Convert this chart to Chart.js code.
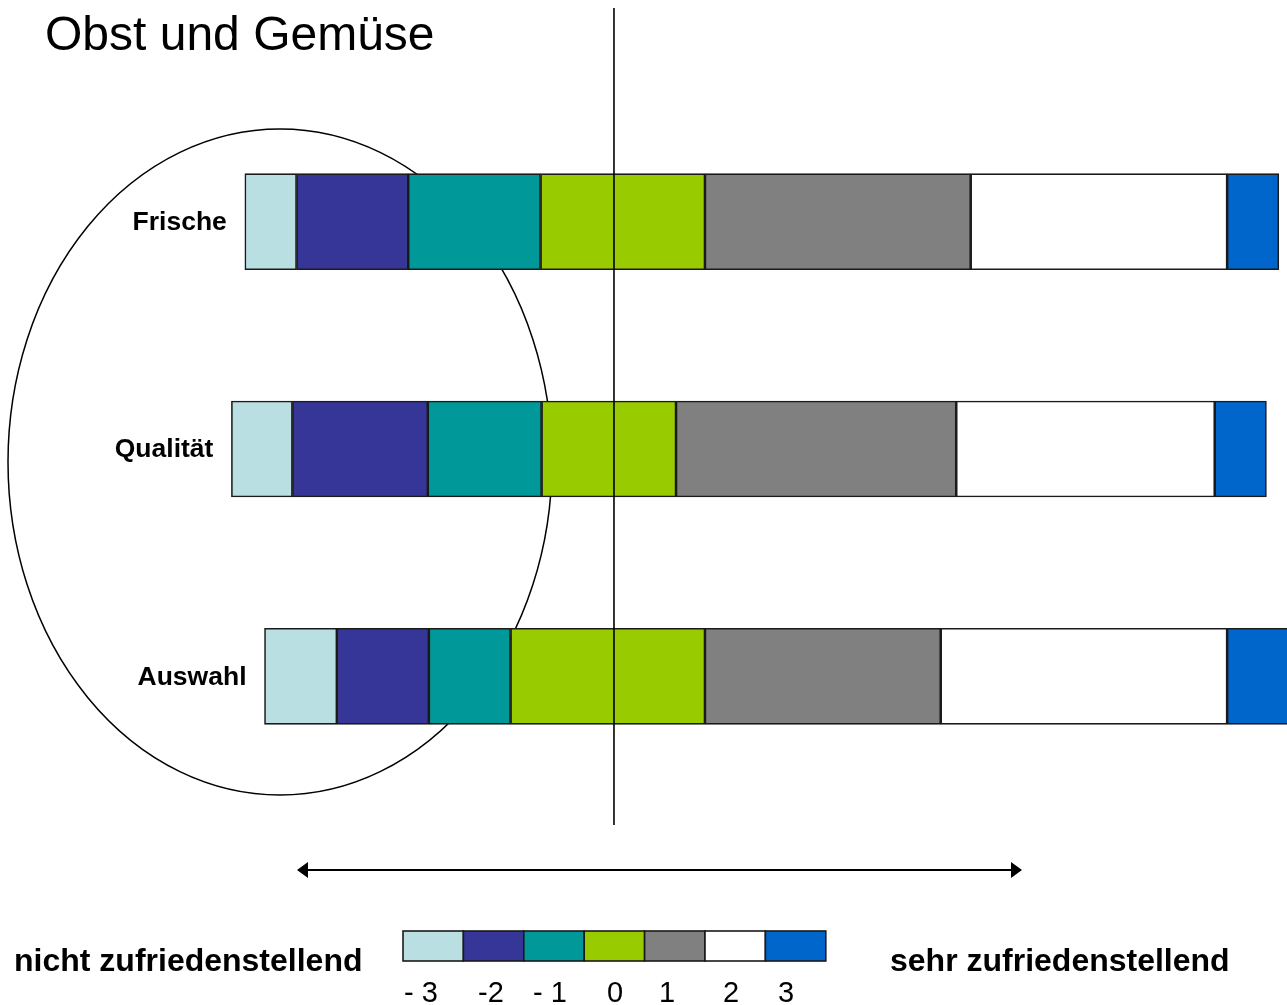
<!DOCTYPE html>
<html>
<head>
<meta charset="utf-8">
<script src="https://cdn.jsdelivr.net/npm/chart.js@4/dist/chart.umd.min.js"></script>
<style>
html,body{margin:0;padding:0;background:#fff;}
#wrap{width:1287px;height:1005px;position:relative;}
</style>
</head>
<body>
<div id="wrap"><canvas id="c" width="1287" height="1005"></canvas></div>
<script>
// ---- data ----
const title = "Obst und Gemüse";
const categories = ["Frische", "Qualität", "Auswahl"];
const ratingLabels = ["- 3", "-2", "- 1", "0", "1", "2", "3"];
const ratingColors = ["#BADFE3", "#363698", "#009898", "#99CC00", "#808080", "#FFFFFF", "#0066CC"];
// share of answers per rating (percent), order -3 .. 3
const frische  = [5.0, 10.8, 12.8, 15.9, 25.7, 24.8, 5.0];
const qualitaet = [5.9, 13.1, 11.0, 13.0, 27.1, 25.0, 5.0];
const auswahl  = [7.0, 8.9, 7.9, 18.8, 22.8, 27.7, 6.9];
// start of each bar relative to the neutral line (percent)
const barStart = [-35.7, -37.0, -33.8];
const leftText = "nicht zufriedenstellend";
const rightText = "sehr zufriedenstellend";

const rows = [frische, qualitaet, auswahl];
const datasets = ratingLabels.map((lab, k) => ({
  label: lab,
  data: rows.map((r, i) => {
    let s = barStart[i];
    for (let j = 0; j < k; j++) s += r[j];
    return [s, s + r[k]];
  }),
  backgroundColor: ratingColors[k],
  borderColor: "#1a1a1a",
  borderWidth: 1.6,
  borderSkipped: false,
  grouped: false,
  barThickness: 96
}));

const FONT = "'Liberation Sans', Arial, Helvetica, sans-serif";

const decor = {
  id: "decor",
  beforeDatasetsDraw(chart) {
    const ctx = chart.ctx;
    ctx.save();
    ctx.beginPath();
    ctx.ellipse(280, 462, 272, 333, 0, 0, Math.PI * 2);
    ctx.lineWidth = 1.5;
    ctx.strokeStyle = "#000";
    ctx.stroke();
    ctx.restore();
  },
  afterDatasetsDraw(chart) {
    const ctx = chart.ctx;
    const xs = chart.scales.x, ys = chart.scales.y;
    ctx.save();
    const x0 = xs.getPixelForValue(0);
    ctx.beginPath();
    ctx.moveTo(x0, 8); ctx.lineTo(x0, 825);
    ctx.lineWidth = 1.6; ctx.strokeStyle = "#000"; ctx.stroke();
    // title
    ctx.fillStyle = "#000";
    ctx.font = "48px " + FONT;
    ctx.textAlign = "left"; ctx.textBaseline = "alphabetic";
    ctx.fillText(title, 45, 50);
    // category labels
    ctx.font = "bold 26.5px " + FONT;
    ctx.textAlign = "right"; ctx.textBaseline = "middle";
    categories.forEach((c, i) => {
      const xp = xs.getPixelForValue(barStart[i]) - 18;
      ctx.fillText(c, xp, ys.getPixelForValue(i) + 1);
    });
    // arrow
    const ay = 870, ax1 = 297, ax2 = 1022;
    ctx.beginPath();
    ctx.moveTo(ax1 + 8, ay); ctx.lineTo(ax2 - 8, ay);
    ctx.lineWidth = 2; ctx.stroke();
    ctx.beginPath();
    ctx.moveTo(ax1, ay); ctx.lineTo(ax1 + 11, ay - 8); ctx.lineTo(ax1 + 11, ay + 8); ctx.closePath();
    ctx.fill();
    ctx.beginPath();
    ctx.moveTo(ax2, ay); ctx.lineTo(ax2 - 11, ay - 8); ctx.lineTo(ax2 - 11, ay + 8); ctx.closePath();
    ctx.fill();
    // legend strip
    const lx = 403, ly = 931, lw = 60.4, lh = 30;
    const labelX = [421, 491, 550, 615, 667, 731, 786];
    ratingColors.forEach((col, k) => {
      ctx.fillStyle = col;
      ctx.fillRect(lx + k * lw, ly, lw, lh);
      ctx.strokeStyle = "#1a1a1a"; ctx.lineWidth = 1.6;
      ctx.strokeRect(lx + k * lw, ly, lw, lh);
    });
    ctx.fillStyle = "#000";
    ctx.font = "29px " + FONT;
    ctx.textAlign = "center"; ctx.textBaseline = "alphabetic";
    ratingLabels.forEach((l, k) => ctx.fillText(l, labelX[k], 1002));
    ctx.font = "bold 32px " + FONT;
    ctx.textAlign = "left";
    ctx.fillText(leftText, 14, 971);
    ctx.fillText(rightText, 890, 971);
    ctx.restore();
  }
};

new Chart(document.getElementById("c"), {
  type: "bar",
  data: { labels: categories, datasets },
  options: {
    indexAxis: "y",
    responsive: false,
    animation: false,
    layout: { padding: { left: 0, right: 0, top: 108, bottom: 215 } },
    plugins: { legend: { display: false }, tooltip: { enabled: false }, title: { display: false } },
    scales: {
      x: { type: "linear", min: -59.38, max: 65.09, display: false },
      y: { type: "category", display: false, offset: true }
    }
  },
  plugins: [decor]
});
</script>
</body>
</html>
